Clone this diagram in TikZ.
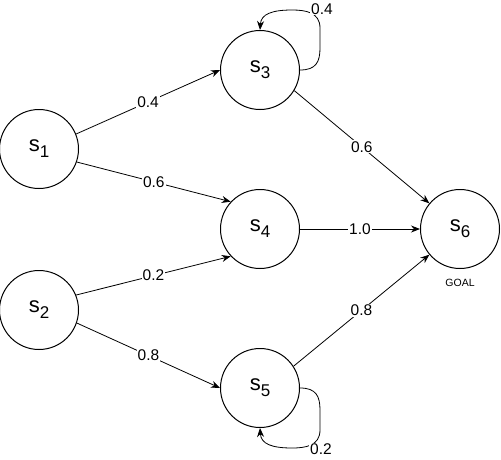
\documentclass[tikz,border=0pt]{standalone}
\usepackage{fontspec}
\setmainfont{Liberation Sans}
\usetikzlibrary{arrows.meta}

\newcommand{\stname}[1]{\fontsize{22}{24}\selectfont s\raisebox{-6pt}{\fontsize{17}{18}\selectfont #1}}

\begin{document}
\begin{tikzpicture}[
			x=1pt, y=-1pt,
			state/.style = {
				circle,
				draw=black,
				line width=1pt,
				fill=white,
				minimum size=79pt,
				inner sep=0pt
			},
			edge/.style = {
				-{Stealth[length=9pt,width=7pt]},
				line width=0.8pt
			},
			prob/.style = {
				fill=white,
				inner sep=1pt,
				font=\fontsize{15.5}{17}\selectfont
			}
			]
			
			\useasboundingbox (0,0) rectangle (501,459);
			
			\node[state] (s1) at (39,149) {\stname{1}};
			\node[state] (s2) at (39,310) {\stname{2}};
			\node[state] (s3) at (260,70) {\stname{3}};
			\node[state] (s4) at (260,229) {\stname{4}};
			\node[state] (s5) at (260,388) {\stname{5}};
			\node[state] (s6) at (460,229) {\stname{6}};
			\node[font=\fontsize{10.5}{12}\selectfont] (goal) at (460,283) {GOAL};
			
			\draw[edge] (s1.22) -- node[prob] {0.4} (s3.west);
			\draw[edge] (s1.-19) -- node[prob] {0.6} (s4.137);
			\draw[edge] (s2.22) -- node[prob] {0.2} (s4.-137);
			\draw[edge] (s2.-19) -- node[prob] {0.8} (s5.west);
			\draw[edge] (s3.-31) -- node[prob] {0.6} (s6.140);
			\draw[edge] (s4.east) -- node[prob] {1.0} (s6.west);
			\draw[edge] (s5.33) -- node[prob] {0.8} (s6.-140);
			
			\draw[edge] (s3.east) .. controls (316,70) and (320,62) .. (320,48) -- (320,28)
				.. controls (320,12) and (305,10) .. (292,10)
				.. controls (272,10) and (261,14) .. (s3.north);
			\node[prob] (p33) at (322,9) {0.4};
			
			\draw[edge] (s5.east) .. controls (316,388) and (320,396) .. (320,410) -- (320,430)
				.. controls (320,446) and (305,448) .. (292,448)
				.. controls (272,448) and (261,444) .. (s5.south);
			\node[prob] (p55) at (321,449) {0.2};
			
		\end{tikzpicture}
\end{document}
